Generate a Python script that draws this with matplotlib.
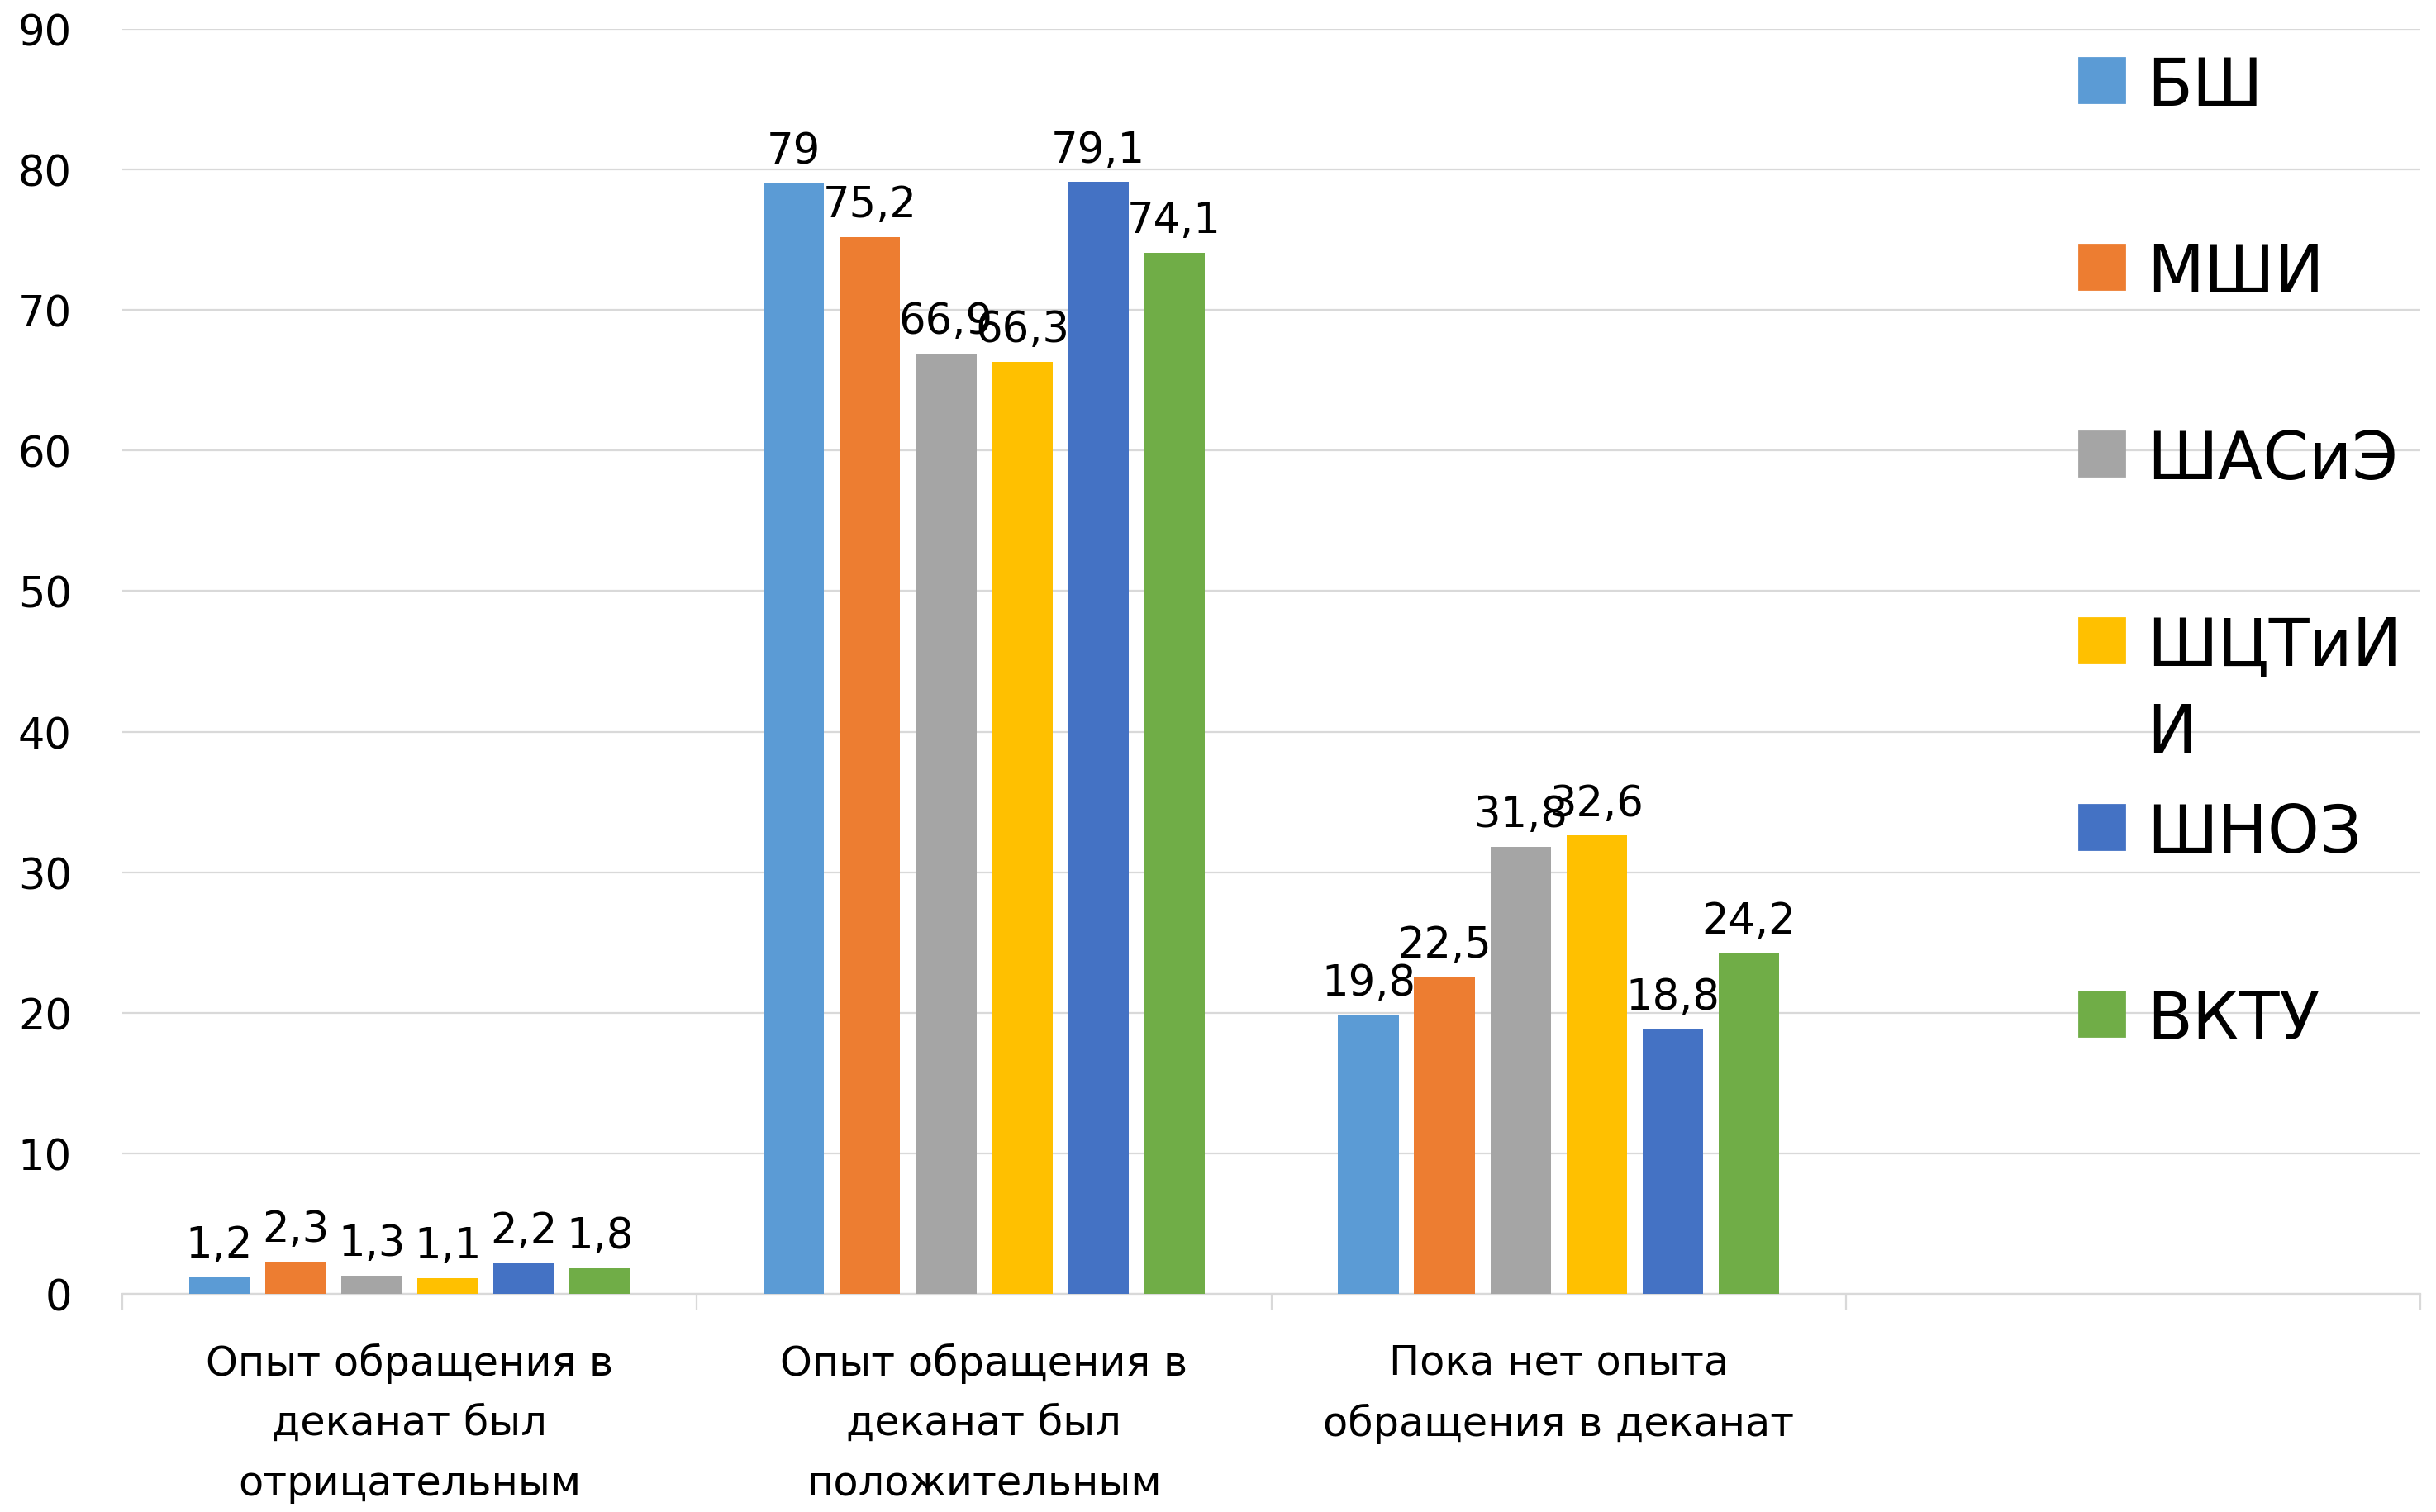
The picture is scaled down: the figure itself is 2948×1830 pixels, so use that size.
import matplotlib

matplotlib.use("Agg")

import matplotlib.pyplot as plt
from matplotlib.patches import Rectangle


categories = [
    "Опыт обращения в\nдеканат был\nотрицательным",
    "Опыт обращения в\nдеканат был\nположительным",
    "Пока нет опыта\nобращения в деканат",
    "",
]
schools = ["БШ", "МШИ", "ШАСиЭ", "ШЦТиИИ", "ШНОЗ", "ВКТУ"]
legend_labels = ["БШ", "МШИ", "ШАСиЭ", "ШЦТиИ\nИ", "ШНОЗ", "ВКТУ"]
values = {
    "БШ": [1.2, 79, 19.8],
    "МШИ": [2.3, 75.2, 22.5],
    "ШАСиЭ": [1.3, 66.9, 31.8],
    "ШЦТиИИ": [1.1, 66.3, 32.6],
    "ШНОЗ": [2.2, 79.1, 18.8],
    "ВКТУ": [1.8, 74.1, 24.2],
}
colors = ["#5B9BD5", "#ED7D31", "#A5A5A5", "#FFC000", "#4472C4", "#70AD47"]
y_ticks = [0, 10, 20, 30, 40, 50, 60, 70, 80, 90]


def fmt(v):
    return f"{v:g}".replace(".", ",")


plt.rcParams["font.family"] = ["DejaVu Sans"]

fig = plt.figure(figsize=(14.74, 9.155), dpi=200)
ax = fig.add_axes([0.0502, 0.1442, 0.9434, 0.8361])

step = 0.1324
width = 0.1054
n_groups = len(values["БШ"])
for i, (name, color) in enumerate(zip(schools, colors)):
    xs = [g + (i - 2.5) * step for g in range(n_groups)]
    bars = ax.bar(xs, values[name], width=width, color=color, zorder=3)
    ax.bar_label(bars, labels=[fmt(v) for v in values[name]], padding=5,
                 fontsize=18.4, color="black")

ax.set_xlim(-0.5, len(categories) - 0.5)
ax.set_ylim(0, 90)
ax.set_yticks(y_ticks)
ax.set_yticklabels([str(t) for t in y_ticks], fontsize=18.4)
ax.tick_params(axis="y", length=0, pad=22)
ax.yaxis.grid(True, color="#d9d9d9", linewidth=0.8, zorder=0)

# category boundaries as tick marks, labels centred in between
ax.set_xticks([k - 0.5 for k in range(len(categories) + 1)])
ax.set_xticklabels([])
ax.tick_params(axis="x", which="major", length=7.2, width=0.8, color="#d9d9d9")
ax.set_xticks(range(len(categories)), minor=True)
ax.set_xticklabels(categories, minor=True, fontsize=17.8, linespacing=1.65)
ax.tick_params(axis="x", which="minor", length=0, pad=21)

for side in ["top", "right", "left"]:
    ax.spines[side].set_visible(False)
ax.spines["bottom"].set_color("#d9d9d9")
ax.spines["bottom"].set_linewidth(0.8)

# legend drawn by hand so the wrapped label keeps the even spacing
for i, (label, color) in enumerate(zip(legend_labels, colors)):
    yc = (98 + 226 * i) / 1831
    fig.patches.append(Rectangle((2516 / 2948, 1 - yc - 27 / 1831), 55 / 2948, 54 / 1831,
                                 transform=fig.transFigure, color=color))
    fig.text(2598 / 2948, 1 - yc + 31 / 1831, label, fontsize=28.8, va="top",
             ha="left", linespacing=1.45)

fig.savefig("out.png", dpi=200, facecolor="white")
